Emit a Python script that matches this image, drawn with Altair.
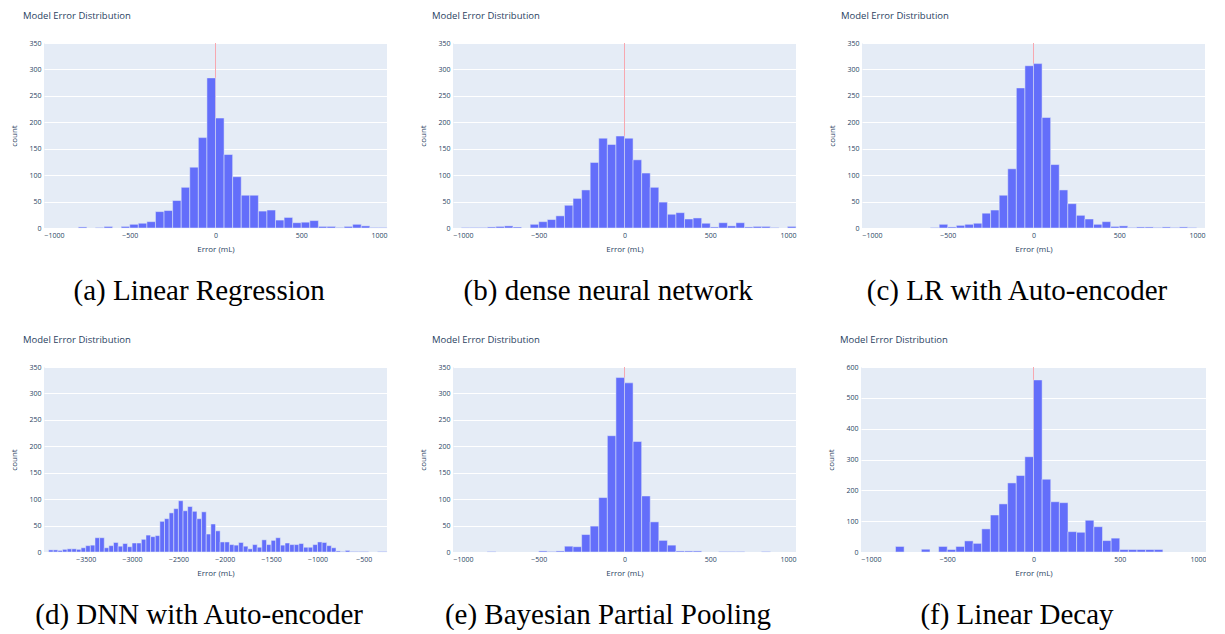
import altair as alt
import pandas as pd

BIN_W = 50
STD_START = -1000

# counts per 50 mL bin, starting at -1000
a_counts = [0, 0, 0, 0, 2, 0, 1, 3, 0, 3, 7, 9, 12, 31, 33, 52, 77, 115, 171, 284,
            208, 139, 97, 62, 62, 32, 34, 15, 20, 10, 11, 14, 3, 3, 1, 3, 7, 4, 1, 1]
b_counts = [0, 1, 1, 1, 2, 3, 4, 2, 0, 7, 12, 16, 23, 43, 56, 72, 124, 170, 158, 174,
            170, 129, 104, 77, 49, 26, 29, 17, 19, 9, 2, 10, 4, 10, 2, 3, 3, 1, 0, 3]
c_counts = [0, 0, 0, 0, 0, 0, 0, 0, 1, 7, 2, 5, 7, 9, 28, 34, 62, 112, 265, 307,
            311, 209, 120, 72, 46, 24, 17, 7, 12, 3, 4, 1, 2, 2, 1, 2, 1, 2, 1, 0]
e_counts = [0, 0, 0, 0, 1, 0, 0, 0, 0, 0, 2, 1, 2, 11, 10, 33, 49, 103, 220, 330,
            320, 209, 106, 57, 22, 13, 2, 2, 2, 0, 0, 1, 1, 1, 0, 0, 1, 0, 0, 0]
f_counts = [0, 0, 0, 0, 18, 0, 0, 9, 0, 18, 8, 18, 36, 28, 75, 120, 156, 224, 248, 309,
            558, 236, 163, 160, 66, 64, 103, 82, 37, 45, 8, 8, 8, 8, 8, 0, 0, 0, 0, 0]

# DNN with auto-encoder: bins of 50 starting at -3900
d_start = -3900
d_counts = [4, 4, 3, 5, 6, 6, 5, 8, 12, 13, 27, 27, 8, 12, 18, 11, 16, 10, 17, 17,
            24, 32, 29, 31, 58, 63, 74, 82, 97, 78, 86, 77, 63, 76, 34, 53, 40, 19, 19, 14,
            13, 18, 11, 6, 14, 9, 23, 14, 22, 27, 13, 17, 14, 14, 16, 9, 9, 14, 19, 18,
            12, 8, 2, 1, 3, 1, 1, 1, 1, 0, 0, 1, 1]

captions = ["(a) Linear Regression", "(b) dense neural network", "(c) LR with Auto-encoder",
            "(d) DNN with Auto-encoder", "(e) Bayesian Partial Pooling", "(f) Linear Decay"]

std_xticks = [-1000, -500, 0, 500, 1000]
d_xticks = [-3500, -3000, -2500, -2000, -1500, -1000, -500]
y350 = [0, 50, 100, 150, 200, 250, 300, 350]
y600 = [0, 100, 200, 300, 400, 500, 600]

BAR = "#636efa"
BG = "#E5ECF6"
TXT = "#2a3f5f"


def panel(start, counts, width, xdom, xticks, ydom, yticks, zero_line, caption):
    starts = [start + i * BIN_W for i in range(len(counts))]
    df = pd.DataFrame({"b0": starts, "b1": [s + BIN_W for s in starts], "count": counts})
    df = df[df["count"] > 0]
    xenc = alt.X("b0:Q", scale=alt.Scale(domain=xdom, nice=False, zero=False),
                 axis=alt.Axis(values=xticks, format="d", title="Error (mL)", grid=False))
    yenc = alt.Y("count:Q", scale=alt.Scale(domain=ydom, nice=False),
                 axis=alt.Axis(values=yticks, title="count"))
    bars = alt.Chart(df).mark_bar(color=BAR, stroke=BG, strokeWidth=0.5).encode(
        x=xenc, x2="b1:Q", y=yenc, y2=alt.datum(0))
    layers = []
    if zero_line:
        rule = alt.Chart(pd.DataFrame({"b0": [0]})).mark_rule(
            color="#f7a8b0", strokeWidth=1).encode(x=xenc)
        layers.append(rule)
    layers.append(bars)
    layer = alt.layer(*layers).properties(
        width=width, height=185,
        title=alt.TitleParams("Model Error Distribution", anchor="start", frame="group",
                              dx=-21, fontSize=9.5, font="Open Sans", color=TXT,
                              fontWeight="normal", offset=19))
    return alt.vconcat(layer, title=alt.TitleParams(
        caption, orient="bottom", anchor="middle", font="Liberation Serif", fontSize=29,
        color="black", fontWeight="normal", offset=24))


std_dom = [-1000, 1000]
pa = panel(STD_START, a_counts, 343, std_dom, std_xticks, [0, 350], y350, True, captions[0])
pb = panel(STD_START, b_counts, 343, std_dom, std_xticks, [0, 350], y350, True, captions[1])
pc = panel(STD_START, c_counts, 343, std_dom, std_xticks, [0, 350], y350, True, captions[2])
pd_ = panel(d_start, d_counts, 343, [-3950, -250], d_xticks, [0, 350], y350, False, captions[3])
pe = panel(STD_START, e_counts, 343, std_dom, std_xticks, [0, 350], y350, True, captions[4])
pf = panel(STD_START, f_counts, 345, std_dom, std_xticks, [0, 600], y600, True, captions[5])

row1 = alt.hconcat(pa, pb, pc, spacing=31)
row2 = alt.hconcat(pd_, pe, pf, spacing=31)

chart = alt.vconcat(row1, row2, spacing=28).properties(
    padding={"left": 2, "top": 2, "right": 0, "bottom": 0}, background="white"
).configure_view(fill=BG, strokeWidth=0).configure_axis(
    labelFont="Open Sans", labelFontSize=7, labelColor=TXT,
    titleFont="Open Sans", titleFontSize=8, titleColor=TXT, titleFontWeight="normal",
    domain=False, ticks=False, gridColor="white", gridWidth=1, labelPadding=3,
).configure_axisX(titlePadding=7).configure_axisY(titlePadding=10)

chart.save("out.html", embed_options={"renderer": "svg", "actions": False})
